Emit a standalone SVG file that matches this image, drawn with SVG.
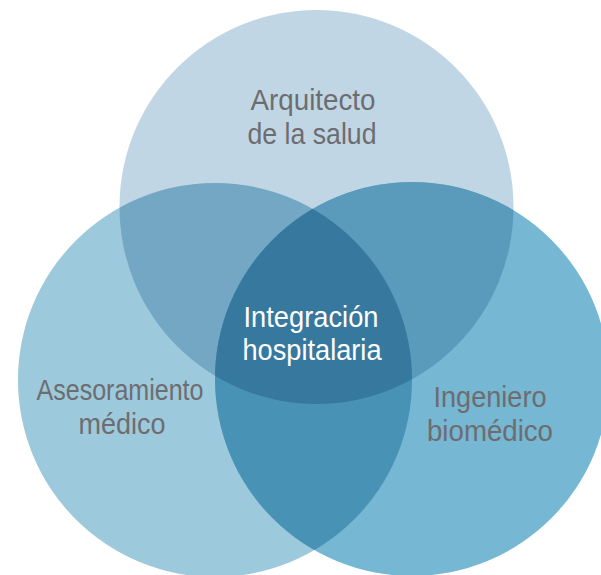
<svg xmlns="http://www.w3.org/2000/svg" width="601" height="575" viewBox="0 0 601 575">
  <style>
    .lbl { font-family: "Liberation Sans", Arial, sans-serif; font-size: 30px; fill: #6d6d70; text-anchor: middle; }
    .ctr { font-family: "Liberation Sans", Arial, sans-serif; font-size: 30px; fill: #ffffff; text-anchor: middle; }
  </style>
  <defs>
    <circle id="cTop" cx="316.5" cy="207" r="197"/>
    <circle id="cLeft" cx="215" cy="380" r="197"/>
    <circle id="cRight" cx="412" cy="379" r="197"/>
    <clipPath id="clipTop"><use href="#cTop"/></clipPath>
    <clipPath id="clipLeft"><use href="#cLeft"/></clipPath>
    <clipPath id="clipRight"><use href="#cRight"/></clipPath>
  </defs>
  <rect width="601" height="575" fill="#ffffff"/>
  <g id="node-arquitecto">
    <use href="#cTop" fill="#c0d6e4"/>
  </g>
  <g id="node-asesoramiento">
    <use href="#cLeft" fill="#9dc9dc"/>
  </g>
  <g id="node-ingeniero">
    <use href="#cRight" fill="#76b7d3"/>
  </g>
  <g id="overlaps">
    <g clip-path="url(#clipTop)"><use href="#cLeft" fill="#74a7c4"/></g>
    <g clip-path="url(#clipTop)"><use href="#cRight" fill="#5a9bbb"/></g>
    <g clip-path="url(#clipLeft)"><use href="#cRight" fill="#4892b5"/></g>
  </g>
  <g id="node-integracion">
    <g clip-path="url(#clipTop)"><g clip-path="url(#clipLeft)"><use href="#cRight" fill="#37789f"/></g></g>
  </g>
  <g id="connectors"></g>
  <g id="labels">
    <text class="lbl" x="313" y="110" textLength="125" lengthAdjust="spacingAndGlyphs">Arquitecto</text>
    <text class="lbl" x="312" y="143.5" textLength="129" lengthAdjust="spacingAndGlyphs">de la salud</text>
    <text class="lbl" x="120" y="400" textLength="167" lengthAdjust="spacingAndGlyphs">Asesoramiento</text>
    <text class="lbl" x="122" y="433.5" textLength="87" lengthAdjust="spacingAndGlyphs">médico</text>
    <text class="lbl" x="490" y="406.5" textLength="113" lengthAdjust="spacingAndGlyphs">Ingeniero</text>
    <text class="lbl" x="490" y="440.5" textLength="126" lengthAdjust="spacingAndGlyphs">biomédico</text>
    <text class="ctr" x="311" y="326.5" textLength="135" lengthAdjust="spacingAndGlyphs">Integración</text>
    <text class="ctr" x="312" y="359.5" textLength="139" lengthAdjust="spacingAndGlyphs">hospitalaria</text>
  </g>
</svg>
